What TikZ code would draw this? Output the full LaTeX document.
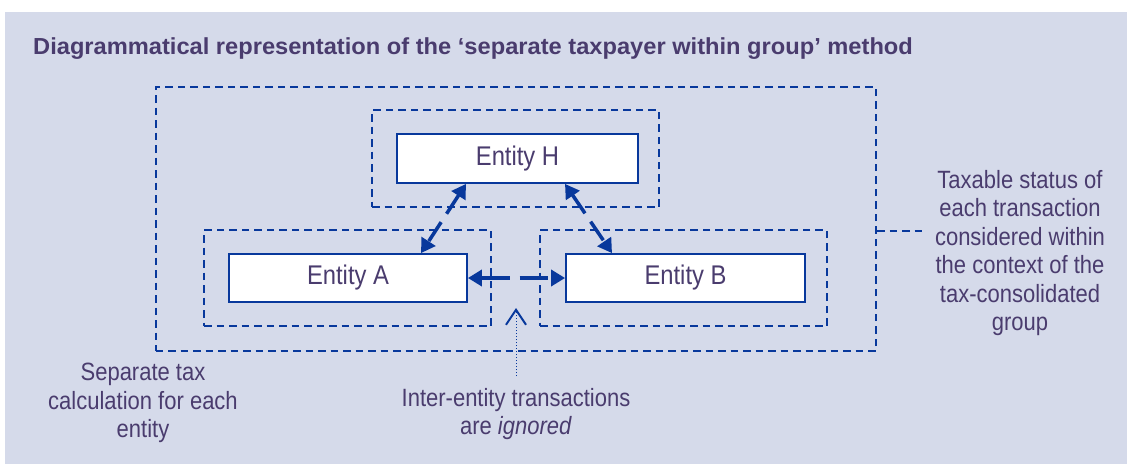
\documentclass[tikz,border=0pt]{standalone}
\usepackage{fontspec}
\setmainfont{Liberation Sans}[FakeStretch=0.88]
\newfontfamily\titlefont{Liberation Sans}[FakeStretch=1.02]
\usetikzlibrary{arrows.meta}
\definecolor{bgc}{RGB}{213,218,234}
\definecolor{txt}{RGB}{74,60,110}
\definecolor{lin}{RGB}{8,56,156}
\tikzset{
  grp/.style={draw=lin, line width=2pt, dash pattern=on 7.5pt off 5pt, inner sep=0pt},
  ent/.style={draw=lin, line width=1.8pt, fill=white, inner sep=0pt, text=txt,
    font=\fontsize{27}{30}\selectfont},
  lbl/.style={text=txt, inner sep=0pt, align=center, anchor=north,
    font=\fontsize{25}{28.5}\selectfont},
  link/.style={draw=lin, line width=3.5pt, {Triangle[length=14pt,width=16pt]}-{Triangle[length=14pt,width=16pt]}}
}
\begin{document}
\begin{tikzpicture}[x=1pt,y=-1pt]
\useasboundingbox (0,0) rectangle (1127,464);
\fill[bgc] (5,12) rectangle (1127,464);
\node[anchor=base west, inner sep=0pt, text=txt, font=\titlefont\bfseries\fontsize{23.2}{26}\selectfont] (title) at (33,54) {Diagrammatical representation of the ‘separate taxpayer within group’ method};
% group boxes
\node[grp, minimum width=720.5pt, minimum height=263.5pt] (outer) at (515.75,218.75) {};
\node[grp, minimum width=287pt, minimum height=97pt] (gH) at (515.5,158.5) {};
\node[grp, minimum width=287pt, minimum height=96pt] (gA) at (347.5,278) {};
\node[grp, minimum width=287pt, minimum height=96pt] (gB) at (683.5,278) {};
% entities
\node[ent, minimum width=241pt, minimum height=49pt] (H) at (517.5,158.5) {Entity H};
\node[ent, minimum width=238pt, minimum height=48pt] (A) at (348,278) {Entity A};
\node[ent, minimum width=239pt, minimum height=48pt] (B) at (685.5,278) {Entity B};
% links
\draw[link, dash pattern=on 22.5pt off 10pt] ([xshift=-51.5pt]H.south) -- ([xshift=73pt]A.north);
\draw[link, dash pattern=on 22.5pt off 10pt] ([xshift=47.5pt]H.south) -- ([xshift=-73.5pt]B.north);
\draw[link, dash pattern=on 28.5pt off 10pt] (A.east) -- (B.west);
% ignored marker
\coordinate (tip) at (516,308);
\coordinate (dotend) at (516,376);
\draw[lin, line width=1pt, dash pattern=on 1pt off 2pt, -{Straight Barb[length=15pt,width=20pt,line width=2pt]}] (dotend) -- (tip);
\node[lbl] (ign) at (516,388) {Inter-entity transactions\\are \textit{ignored}};
% separate tax label
\node[lbl] (sep) at (143,363) {Separate tax\\calculation for each\\entity};
% taxable status label
\coordinate (lead) at (925,231);
\draw[grp] (outer.east |- lead) -- (lead);
\node[lbl] (tax) at (1020,170) {Taxable status of\\each transaction\\considered within\\the context of the\\tax-consolidated\\group};
\end{tikzpicture}
\end{document}
